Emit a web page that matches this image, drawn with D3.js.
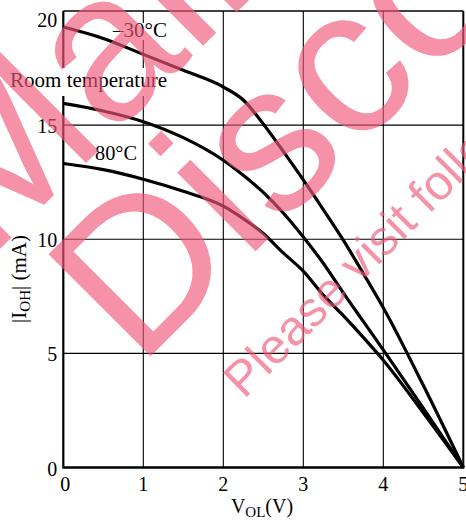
<!DOCTYPE html>
<html><head><meta charset="utf-8">
<script src="https://cdn.jsdelivr.net/npm/d3@7"></script>
<style>
html,body{margin:0;padding:0;background:#fff;}
svg{display:block;}
</style></head>
<body>
<svg id="chart" width="466" height="520"></svg>
<script>
// ---- data ----
const vol = [0, 0.5, 1, 1.5, 2, 2.25, 2.5, 2.75, 3, 3.25, 3.5, 3.75, 4, 4.5, 5];
const ioh_m30 = [19.3, 18.8, 18.1, 17.4, 16.67, 16.1, 15.05, 13.85, 12.6, 11.3, 9.96, 8.5, 7.0, 3.6, 0];
const ioh_room = [15.95, 15.62, 15.15, 14.45, 13.46, 12.8, 12.05, 11.15, 10.1, 8.95, 7.65, 6.4, 5.15, 2.6, 0];
const ioh_80 = [13.32, 13.05, 12.63, 12.1, 11.45, 10.9, 10.25, 9.4, 8.6, 7.55, 6.65, 5.7, 4.7, 2.4, 0];
const seriesNames = ["\u201330\u00B0C", "Room temperature", "80\u00B0C"];
const xTicks = [0, 1, 2, 3, 4, 5];
const yTicks = [0, 5, 10, 15, 20];

const svg = d3.select("#chart");
const x = d3.scaleLinear().domain([0, 5]).range([63.3, 463.3]);
const y = d3.scaleLinear().domain([0, 20]).range([467.5, 11]);
const serif = "'Liberation Serif','Times New Roman',serif";

// grid
const g = svg.append("g");
g.selectAll("line.vx").data(xTicks.slice(1)).join("line")
  .attr("x1", d => x(d)).attr("x2", d => x(d)).attr("y1", y(0)).attr("y2", y(20))
  .attr("stroke", "#000").attr("stroke-width", d => d === 5 ? 2 : 1.1);
g.selectAll("line.hy").data(yTicks.slice(1)).join("line")
  .attr("x1", x(0)).attr("x2", x(5)).attr("y1", d => y(d)).attr("y2", d => y(d))
  .attr("stroke", "#000").attr("stroke-width", d => d === 20 ? 1.6 : 1.1);
// axes
g.append("line").attr("x1", x(0)).attr("x2", x(0)).attr("y1", y(0) + 1).attr("y2", y(20))
  .attr("stroke", "#000").attr("stroke-width", 2.2);
g.append("line").attr("x1", x(0)).attr("x2", x(5) + 1).attr("y1", y(0)).attr("y2", y(0))
  .attr("stroke", "#000").attr("stroke-width", 2.4);

// tick labels
svg.selectAll("text.yt").data(yTicks).join("text")
  .attr("x", x(0) - 6).attr("y", d => y(d) + (d === 20 ? 16 : 8))
  .attr("text-anchor", "end").attr("font-family", serif).attr("font-size", 20)
  .text(d => d);
svg.selectAll("text.xt").data(xTicks).join("text")
  .attr("x", d => x(d) + (d === 0 ? 2 : 0)).attr("y", y(0) + 23)
  .attr("text-anchor", "middle").attr("font-family", serif).attr("font-size", 20)
  .text(d => d);

// axis titles
const xt = svg.append("text").attr("x", 262).attr("y", 513).attr("text-anchor", "middle")
  .attr("font-family", serif).attr("font-size", 20);
xt.append("tspan").text("V");
xt.append("tspan").attr("dy", 4).attr("font-size", 15).text("OL");
xt.append("tspan").attr("dy", -4).text("(V)");

const yt = svg.append("text").attr("transform", "translate(26,279) rotate(-90)")
  .attr("text-anchor", "middle").attr("font-family", serif).attr("font-size", 21);
yt.append("tspan").text("|I");
yt.append("tspan").attr("dy", 4).attr("font-size", 15).text("OH");
yt.append("tspan").attr("dy", -4).text("| (mA)");

// series labels with white boxes
const labels = [
  {name: seriesNames[0], x: 113, y: 37, w: 54, box: [112, 23, 57, 17]},
  {name: seriesNames[1], x: 10, y: 87, w: 157, box: [6, 68, 165, 28]},
  {name: seriesNames[2], x: 95, y: 160, w: 42, box: [93, 143, 46, 20]}
];
labels.forEach(l => {
  svg.append("rect").attr("x", l.box[0]).attr("y", l.box[1]).attr("width", l.box[2]).attr("height", l.box[3]).attr("fill", "#fff");
  svg.append("text").attr("x", l.x).attr("y", l.y).attr("font-family", serif).attr("font-size", 20.5)
    .attr("textLength", l.w).attr("lengthAdjust", "spacingAndGlyphs").text(l.name);
});

// curves
const line = d3.line().x(d => x(d[0])).y(d => y(d[1])).curve(d3.curveMonotoneX);
[ioh_m30, ioh_room, ioh_80].forEach(s => {
  svg.append("path").datum(vol.map((v, i) => [v, s[i]])).attr("d", line)
    .attr("fill", "none").attr("stroke", "#000").attr("stroke-width", 3.2).attr("stroke-linejoin", "round");
});

// watermark
const wm = svg.append("g").attr("fill", "#f0587a").attr("fill-opacity", 0.65)
  .attr("font-family", "'Liberation Sans', Arial, sans-serif");
wm.append("text").attr("transform", "translate(-13,262) rotate(-45)").attr("font-size", 210).text("Maintenance");
wm.append("text").attr("transform", "translate(138.6,368.4) rotate(-45)").attr("font-size", 210).text("Discontinued");
wm.append("text").attr("transform", "translate(244,399.5) rotate(-45)").attr("font-size", 49).text("Please visit following URL about latest information.");
</script>
</body></html>
